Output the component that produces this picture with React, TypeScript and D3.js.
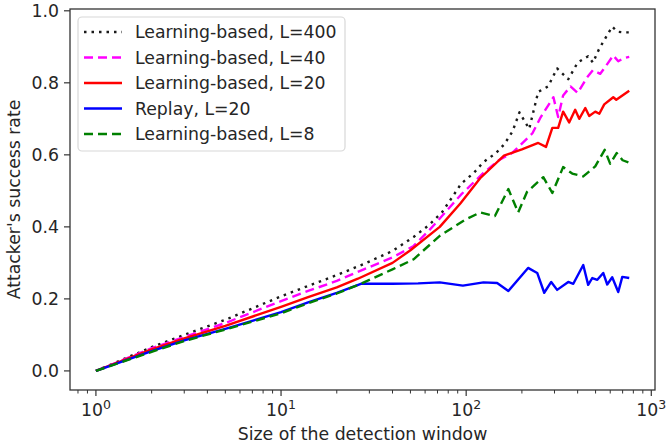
import React from "react"
import * as d3 from "d3"

// window sizes / success rates
const l400X = [1, 2, 3, 5, 10, 14, 20, 28, 40, 52, 63, 74, 94, 110, 124, 145, 161, 178, 194, 219, 245, 277, 310, 356, 400, 456, 484, 518, 550, 615, 655, 705, 760]
const l400Y = [0, 0.066, 0.1, 0.142, 0.207, 0.236, 0.266, 0.297, 0.333, 0.372, 0.405, 0.44, 0.52, 0.55, 0.58, 0.605, 0.63, 0.665, 0.718, 0.672, 0.775, 0.79, 0.84, 0.81, 0.856, 0.874, 0.856, 0.89, 0.914, 0.956, 0.942, 0.94, 0.94]

const l40X = [1, 2, 3, 5, 10, 14, 20, 28, 40, 52, 63, 74, 94, 124, 150, 178, 228, 253, 296, 314, 334, 366, 400, 450, 484, 530, 578, 623, 663, 705, 760]
const l40Y = [0, 0.063, 0.094, 0.133, 0.194, 0.222, 0.25, 0.282, 0.315, 0.347, 0.39, 0.43, 0.49, 0.55, 0.585, 0.606, 0.66, 0.705, 0.76, 0.705, 0.765, 0.79, 0.772, 0.815, 0.835, 0.825, 0.852, 0.876, 0.86, 0.868, 0.872]

const l20X = [1, 2, 3, 5, 10, 14, 20, 26, 40, 50, 72, 93, 119, 160, 200, 245, 270, 292, 314, 334, 360, 388, 408, 440, 462, 498, 524, 557, 623, 647, 760]
const l20Y = [0, 0.06, 0.09, 0.125, 0.178, 0.205, 0.232, 0.256, 0.3, 0.335, 0.4, 0.465, 0.535, 0.598, 0.615, 0.633, 0.622, 0.675, 0.675, 0.72, 0.69, 0.725, 0.7, 0.73, 0.708, 0.72, 0.714, 0.74, 0.76, 0.753, 0.778]

const replayX = [1, 2, 3, 5, 10, 14, 20, 27, 40, 55, 72, 96, 124, 147, 169, 216, 242, 264, 288, 310, 356, 379, 429, 456, 480, 511, 550, 578, 615, 663, 697, 760]
const replayY = [0, 0.055, 0.085, 0.117, 0.163, 0.19, 0.217, 0.242, 0.242, 0.243, 0.246, 0.237, 0.246, 0.244, 0.222, 0.286, 0.272, 0.217, 0.247, 0.225, 0.247, 0.242, 0.294, 0.239, 0.258, 0.253, 0.272, 0.24, 0.26, 0.219, 0.261, 0.258]

const l8X = [1, 2, 3, 5, 10, 14, 20, 27, 40, 52, 72, 99, 119, 143, 169, 191, 213, 261, 292, 334, 374, 429, 498, 560, 600, 650, 700, 760]
const l8Y = [0, 0.053, 0.083, 0.115, 0.16, 0.188, 0.215, 0.242, 0.282, 0.31, 0.375, 0.42, 0.44, 0.43, 0.505, 0.44, 0.497, 0.538, 0.494, 0.566, 0.548, 0.54, 0.568, 0.614, 0.575, 0.605, 0.585, 0.578]

const yTicks = [0, 0.2, 0.4, 0.6, 0.8, 1.0]
const xDecades = [0, 1, 2, 3]

const series = [
  { name: "Learning-based, L=400", xs: l400X, ys: l400Y, color: "#1a1a1a", dash: "2.5,5" },
  { name: "Learning-based, L=40", xs: l40X, ys: l40Y, color: "#ff00ff", dash: "9,5" },
  { name: "Learning-based, L=20", xs: l20X, ys: l20Y, color: "#ff0000", dash: null },
  { name: "Replay, L=20", xs: replayX, ys: replayY, color: "#0000ff", dash: null },
  { name: "Learning-based, L=8", xs: l8X, ys: l8Y, color: "#008000", dash: "9,5" },
]

const W = 667
const H = 446
const left = 70,
  right = 655,
  top = 9,
  bottom = 390
const font = "DejaVu Sans"
const ink = "#262626"

export default function App() {
  const x = d3.scaleLog().domain([Math.pow(10, -0.14), Math.pow(10, 3.02)]).range([left, right])
  const y = d3.scaleLinear().domain([-0.053, 1.005]).range([bottom, top])

  const line = d3
    .line<[number, number]>()
    .x(d => x(d[0]))
    .y(d => y(d[1]))

  const minor: number[] = []
  for (let e = -1; e <= 3; e++) {
    for (let k = 2; k <= 9; k++) {
      const v = k * Math.pow(10, e)
      if (x(v) >= left && x(v) <= right) minor.push(v)
    }
  }

  return (
    <svg width={W} height={H} style={{ position: "absolute", left: 0, top: 0, background: "#fff" }} fontFamily={font}>
      <defs>
        <clipPath id="plot">
          <rect x={left} y={top} width={right - left} height={bottom - top} />
        </clipPath>
      </defs>

      <g clipPath="url(#plot)">
        {series.map(s => (
          <path
            key={s.name}
            d={line(s.xs.map((v, i) => [v, s.ys[i]] as [number, number])) || ""}
            fill="none"
            stroke={s.color}
            strokeWidth={2.4}
            strokeDasharray={s.dash || undefined}
            strokeLinejoin="round"
          />
        ))}
      </g>

      <rect x={left} y={top} width={right - left} height={bottom - top} fill="none" stroke="#333" strokeWidth={1.3} />

      {yTicks.map(t => (
        <g key={t}>
          <line x1={left - 6} x2={left} y1={y(t)} y2={y(t)} stroke="#333" strokeWidth={1.2} />
          <text x={left - 11} y={y(t) + 6} textAnchor="end" fontSize={17.3} fill={ink}>
            {t.toFixed(1)}
          </text>
        </g>
      ))}

      {minor.map(v => (
        <line key={v} x1={x(v)} x2={x(v)} y1={bottom} y2={bottom + 3.5} stroke="#333" strokeWidth={1} />
      ))}
      {xDecades.map(e => (
        <g key={e}>
          <line x1={x(Math.pow(10, e))} x2={x(Math.pow(10, e))} y1={bottom} y2={bottom + 6} stroke="#333" strokeWidth={1.2} />
          <text x={x(Math.pow(10, e))} y={416} textAnchor="middle" fontSize={17.3} fill={ink}>
            10
            <tspan dy={-7} fontSize={12.5}>
              {e}
            </tspan>
          </text>
        </g>
      ))}

      <text x={(left + right) / 2} y={440} textAnchor="middle" fontSize={17.3} fill={ink}>
        Size of the detection window
      </text>
      <text transform={`translate(20,${(top + bottom) / 2}) rotate(-90)`} textAnchor="middle" fontSize={17.3} fill={ink}>
        Attacker's success rate
      </text>

      <rect x={78} y={17} width={267} height={134} rx={4} fill="#fff" fillOpacity={0.85} stroke="#d8d8d8" strokeWidth={1.2} />
      {series.map((s, i) => {
        const cy = 32 + i * 25.5
        return (
          <g key={s.name}>
            <line x1={84} x2={122} y1={cy} y2={cy} stroke={s.color} strokeWidth={2.4} strokeDasharray={s.dash || undefined} />
            <text x={135} y={cy + 6} fontSize={17.3} fill={ink}>
              {s.name}
            </text>
          </g>
        )
      })}
    </svg>
  )
}
